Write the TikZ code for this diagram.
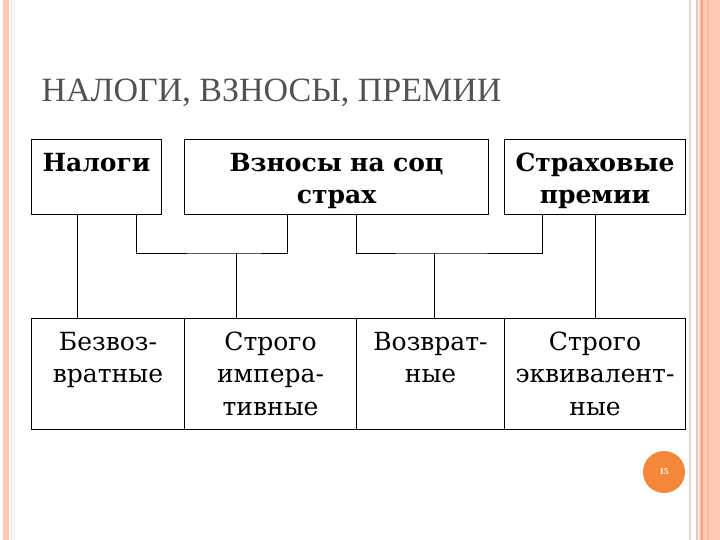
\documentclass[tikz,border=0pt]{standalone}
\usepackage{fontspec}
\setmainfont{Liberation Serif}
\newfontfamily\boxfont{DejaVu Serif}
\usepackage{tikz}
\def\largeur{720}
\def\hauteur{540}
\definecolor{peche}{HTML}{FFC9B5}
\definecolor{pechefonce}{HTML}{F3A583}
\definecolor{filet}{HTML}{EFD8C8}
\definecolor{pastille}{HTML}{F5873A}

\begin{document}
\begin{tikzpicture}[x=1pt, y=-1pt, line width=1pt,
  haut/.style={draw, rectangle, anchor=north west, minimum height=75pt, inner sep=0pt},
  bas/.style={draw, rectangle, anchor=north west, minimum height=111pt, inner sep=0pt},
  textehaut/.style={anchor=base, text width=#1, align=center, inner sep=0pt, font=\boxfont\bfseries\fontsize{25}{32}\selectfont},
  textebas/.style={anchor=base, text width=#1, align=center, inner sep=0pt, font=\boxfont\fontsize{25}{32.5}\selectfont}]
\fill[white] (0,0) rectangle (\largeur,\hauteur);
\useasboundingbox (0,0) rectangle (\largeur,\hauteur);
\fill[peche] (3,0) rectangle (9,\hauteur);
\fill[filet] (11,0) rectangle (12,\hauteur);
\fill[filet!50] (14,0) rectangle (15,\hauteur);
\fill[filet] (689,0) rectangle (691,\hauteur);
\fill[filet!80!black!20!peche] (696,0) rectangle (698,\hauteur);
\fill[peche] (699,0) rectangle (\largeur,\hauteur);
\fill[pechefonce] (701,0) rectangle (703,\hauteur);
\fill[pechefonce!40!peche] (707,0) rectangle (709,\hauteur);

\node[anchor=base west, inner sep=0pt, text=black!68, font=\fontsize{34}{34}\selectfont] (titre) at (41,102) {НАЛОГИ, ВЗНОСЫ, ПРЕМИИ};

\node[haut, minimum width=130pt] (nal) at (31,139) {};
\node[haut, minimum width=304pt] (vzn) at (184,139) {};
\node[haut, minimum width=181pt] (str) at (504,139) {};
\node[textehaut=128pt] at ([yshift=-32.7pt]nal.north) {Налоги};
\node[textehaut=300pt] at ([yshift=-32.7pt]vzn.north) {Взносы на соц\\страх};
\node[textehaut=178pt] at ([yshift=-32.7pt]str.north) {Страховые\\премии};

\node[bas, minimum width=153pt] (bez) at (31,318) {};
\node[bas, minimum width=172pt] (imp) at (184,318) {};
\node[bas, minimum width=148pt] (voz) at (356,318) {};
\node[bas, minimum width=181pt] (ekv) at (504,318) {};
\node[textebas=150pt] at ([yshift=-32pt]bez.north) {Безвоз-\\вратные};
\node[textebas=170pt] at ([yshift=-32pt]imp.north) {Строго\\импера-\\тивные};
\node[textebas=146pt] at ([yshift=-32pt]voz.north) {Возврат-\\ные};
\node[textebas=179pt] at ([yshift=-32pt]ekv.north) {Строго\\эквивалент-\\ные};

\coordinate (jg) at (236,253);
\coordinate (jd) at (434,253);
\draw (nal.south -| 77,0) -- (bez.north -| 77,0);
\draw ([xshift=40pt]nal.south) |- (jg) -| ([xshift=-49pt]vzn.south);
\draw (jg) -- (jg |- imp.north);
\draw ([xshift=20pt]vzn.south) |- (jd) -| ([xshift=-52.5pt]str.south);
\draw (jd) -- (jd |- voz.north);
\draw (str.south) -- (ekv.north);

\node[circle, fill=pastille, minimum size=42pt, inner sep=0pt, text=white, font=\fontsize{9}{9}\selectfont\bfseries] (page) at (664,472) {15};
\end{tikzpicture}
\end{document}
